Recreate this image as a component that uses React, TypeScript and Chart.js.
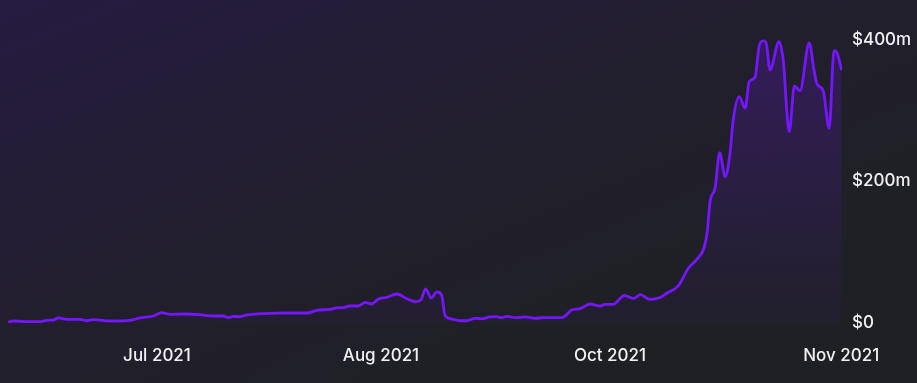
import { useEffect, useRef } from 'react';
import { Chart, registerables } from 'chart.js';

Chart.register(...registerables);

// Position of each sample along the time axis (sample index units)
const samplePositions = [
  0, 1.3, 5.5, 8, 9.7, 11.3, 12.6, 14.7, 18, 19.7, 21.3, 25.5, 30.5, 33, 36.3, 38.4, 40.5, 44.7, 48, 51.3,
  53.8, 55.1, 56.3, 58, 59.7, 63, 66.3, 69.7, 74.7, 77.2, 80.5, 82.2, 83.8, 85.5, 87.6, 89.3, 90.9, 92.6,
  94.7, 97.2, 99.7, 101.8, 103.2, 104.4, 105.8, 107.2, 108.4, 109.3, 111.3, 113, 114.7, 116.8, 118.4, 120.5,
  122.2, 123.4, 124.7, 126.8, 129.3, 131.8, 133.8, 138.4, 139.3, 140.9, 143, 145.5, 148, 149.3, 151.3, 154.1,
  156.5, 158.1, 160.5, 163, 164.7, 167.6, 170.1, 172.2, 174, 174.8, 175.5, 176.8, 177.9, 179.3, 180.5, 181.3,
  182.8, 184.3, 185.3, 186.75, 187.8, 188.9, 189.6, 190.5, 192.75, 193.8, 195.3, 196.6, 198, 200.3, 201.5,
  202.25, 203.8, 205.3, 206.5, 207.3, 208.4,
];

// Volume in $ millions
const volumeMillions = [
  1.0, 2.8, 1.8, 1.8, 3.8, 4.2, 7.1, 5.2, 5.2, 3.2, 4.7, 2.8, 3.8, 7.1, 9.9, 14.5, 12.3, 12.7, 11.7, 9.9,
  9.9, 7.5, 9.4, 8.9, 11.3, 13.1, 13.7, 14.1, 14.1, 17.9, 19.3, 21.2, 21.6, 24.0, 24.0, 29.2, 26.8, 33.9,
  36.2, 40.9, 34.3, 30.0, 32.4, 48.0, 35.3, 43.7, 39.5, 9.9, 5.2, 3.2, 3.2, 6.6, 6.1, 8.5,
  8.9, 7.5, 9.4, 7.5, 8.5, 6.6, 7.5, 7.5, 9.9, 18.3, 20.2, 26.8, 24.0, 26.4, 26.4, 38.8,
  34.8, 39.9, 33.4, 36.0, 41.9, 52.6, 77.2, 89.8, 105.8, 128.4, 170.7, 191.1, 240.2, 206.3, 239.4, 286.3,
  319.2, 302.8, 340.3, 346.5, 390.7, 398.4, 393.5, 356.8, 396.8, 370.9, 269.8, 334.3, 327.6, 394.9, 356.8,
  337.1, 327.6, 274.6, 384.1, 380.4, 356.8,
];

const monthTickPositions = [37.25, 93.25, 150.5, 208.3];
const monthTickLabels = ['Jul 2021', 'Aug 2021', 'Oct 2021', 'Nov 2021'];
const valueTicks = [0, 200, 400];
const valueTickLabels = ['$0', '$200m', '$400m'];

const LINE_COLOR = '#7516ff';
const TEXT_COLOR = '#f0f0f4';
const FONT = { family: 'Inter', size: 17, weight: 500 as const };

export default function App() {
  const ref = useRef<HTMLCanvasElement>(null);

  useEffect(() => {
    if (!ref.current) return;
    const chart = new Chart(ref.current, {
      type: 'line',
      data: {
        datasets: [
          {
            data: samplePositions.map((x, i) => ({ x, y: volumeMillions[i] })),
            borderColor: LINE_COLOR,
            borderWidth: 2.8,
            pointRadius: 0,
            cubicInterpolationMode: 'monotone',
            fill: 'origin',
            backgroundColor: (ctx: any) => {
              const { chart } = ctx;
              const area = chart.chartArea;
              if (!area) return 'rgba(0,0,0,0)';
              const g = chart.ctx.createLinearGradient(0, area.top, 0, area.bottom);
              g.addColorStop(0, 'rgba(117,21,255,0.22)');
              g.addColorStop(1, 'rgba(117,21,255,0.03)');
              return g;
            },
          },
        ],
      },
      options: {
        animation: false,
        responsive: true,
        maintainAspectRatio: false,
        layout: { padding: { left: 8, top: 39.4, right: 0, bottom: 0 } },
        plugins: { legend: { display: false }, tooltip: { enabled: false } },
        scales: {
          x: {
            type: 'linear',
            min: 0,
            max: 208.5,
            grid: { display: false, drawTicks: false },
            border: { display: false },
            afterBuildTicks: (s: any) => {
              s.ticks = monthTickPositions.map((value) => ({ value }));
            },
            afterFit: (s: any) => {
              s.height = 60;
            },
            ticks: {
              padding: 23,
              color: TEXT_COLOR,
              font: FONT,
              maxRotation: 0,
              autoSkip: false,
              callback: (v: any) => {
                const i = monthTickPositions.indexOf(Number(v));
                return i >= 0 ? monthTickLabels[i] : '';
              },
            },
          },
          y: {
            position: 'right',
            min: 0,
            max: 400,
            grid: { display: false, drawTicks: false },
            border: { display: false },
            afterBuildTicks: (s: any) => {
              s.ticks = valueTicks.map((value) => ({ value }));
            },
            afterFit: (s: any) => {
              s.width = 75;
            },
            ticks: {
              padding: 10,
              color: TEXT_COLOR,
              font: FONT,
              callback: (v: any) => {
                const i = valueTicks.indexOf(Number(v));
                return i >= 0 ? valueTickLabels[i] : '';
              },
            },
          },
        },
      },
    });
    return () => chart.destroy();
  }, []);

  return (
    <div
      style={{
        position: 'fixed',
        left: 0,
        top: 0,
        width: 917,
        height: 383,
        background: 'linear-gradient(to bottom right, #261b41 0%, #211f2b 50%, #1f2026 75%)',
      }}
    >
      <div style={{ position: 'absolute', left: 0, top: 0, width: 917, height: 383 }}>
        <canvas ref={ref} />
      </div>
    </div>
  );
}
